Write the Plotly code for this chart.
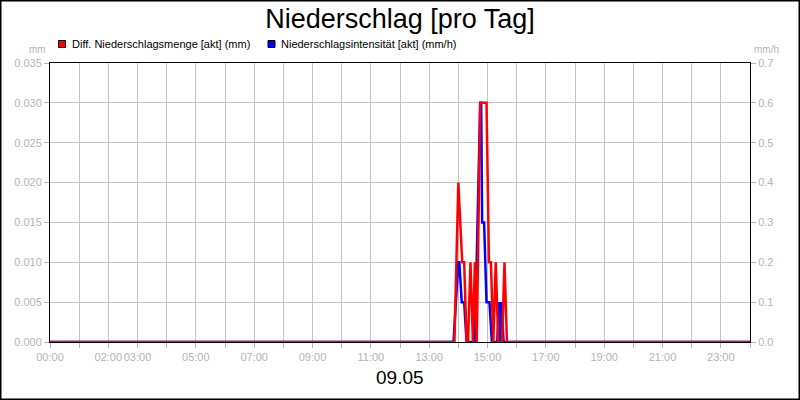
import plotly.graph_objects as go

# Diff. Niederschlagsmenge (mm), times
menge_zeit = ["00:00", "13:52", "14:00", "14:08", "14:12", "14:17", "14:20", "14:25",
              "14:30", "14:34", "14:38", "14:45", "14:58", "15:03", "15:07", "15:12",
              "15:17", "15:22", "15:30", "15:35", "15:40", "24:00"]
menge_mm = [0, 0, 0.02, 0.01, 0.01, 0, 0, 0.01,
            0, 0.01, 0, 0.03, 0.03, 0.01, 0.01, 0,
            0.01, 0, 0, 0.01, 0, 0]

# Niederschlagsintensitaet (mm/h)
int_zeit = ["00:00", "13:50", "14:00", "14:02", "14:07", "14:12", "14:17", "14:34",
            "14:45", "14:47", "14:49", "14:53", "14:58", "15:04", "15:09", "15:20",
            "15:24", "15:26", "15:29", "15:33", "24:00"]
int_mmh = [0, 0, 0.2, 0.2, 0.1, 0.1, 0, 0,
           0.6, 0.6, 0.3, 0.3, 0.1, 0.1, 0, 0,
           0.1, 0, 0.1, 0, 0]

x_labels = ["00:00", "02:00", "03:00", "05:00", "07:00", "09:00", "11:00",
            "13:00", "15:00", "17:00", "19:00", "21:00", "23:00"]

def to_hours(s):
    h, m = s.split(":")
    return int(h) + int(m) / 60

hours = list(range(0, 25))
ticktext = [f"{h:02d}:00" if f"{h:02d}:00" in x_labels else "" for h in hours]

GRAY = "#b4b4b4"
GRID = "#c4c4c4"
FONT = "Liberation Sans"

fig = go.Figure()
# blue on base axis, red on overlaying axis so red is drawn on top
fig.add_trace(go.Scatter(x=[to_hours(t) for t in int_zeit], y=int_mmh, mode="lines",
                         line=dict(color="#0000ff", width=2.5), yaxis="y",
                         name="Niederschlagsintensität [akt] (mm/h)", showlegend=False))
fig.add_trace(go.Scatter(x=[to_hours(t) for t in menge_zeit], y=menge_mm, mode="lines",
                         line=dict(color="#ff0000", width=2.5), yaxis="y2",
                         name="Diff. Niederschlagsmenge [akt] (mm)", showlegend=False))

axis_font = dict(family=FONT, size=11, color=GRAY)

fig.update_layout(
    width=800, height=400,
    margin=dict(l=50, r=50, t=63, b=58, autoexpand=False),
    paper_bgcolor="white", plot_bgcolor="white",
    font=dict(family=FONT, color="black"),
    title=dict(text="Niederschlag [pro Tag]", x=0.5, xanchor="center",
               y=1 - 19 / 400, yref="container", yanchor="middle",
               font=dict(family=FONT, size=27, color="black")),
    xaxis=dict(range=[0, 24], tickmode="array", tickvals=hours, ticktext=ticktext,
               tickangle=0, automargin=False,
               showgrid=True, gridcolor=GRID, gridwidth=1,
               ticks="outside", ticklen=5, tickcolor=GRAY, tickfont=axis_font,
               showline=True, linecolor="black", linewidth=1, mirror=True,
               zeroline=False),
    yaxis=dict(side="right", range=[0, 0.7], dtick=0.1, tickformat=".1f",
               automargin=False,
               showgrid=True, gridcolor=GRID, gridwidth=1,
               ticks="outside", ticklen=5, tickcolor=GRAY, tickfont=axis_font,
               showline=True, linecolor="black", linewidth=1, zeroline=False),
    yaxis2=dict(side="left", overlaying="y", range=[0, 0.035], dtick=0.005,
                tickformat=".3f", showgrid=False, automargin=False,
                ticks="outside", ticklen=5, tickcolor=GRAY, tickfont=axis_font,
                showline=True, linecolor="black", linewidth=1, zeroline=False),
    showlegend=False,
)

def px(x):
    return (x - 50) / 700

def py(y):
    return (342 - y) / 279

# outer frame
fig.add_shape(type="rect", xref="paper", yref="paper",
              x0=px(0.75), x1=px(799.25), y0=py(399.25), y1=py(0.75),
              line=dict(color="black", width=1.5), layer="above")

# legend swatches and texts
legend_items = [("#ff0000", 58.5, "Diff. Niederschlagsmenge [akt] (mm)"),
                ("#0000ff", 268, "Niederschlagsintensität [akt] (mm/h)")]
for color, x0, label in legend_items:
    fig.add_shape(type="rect", xref="paper", yref="paper",
                  x0=px(x0), x1=px(x0 + 7), y0=py(47.5), y1=py(40.5),
                  fillcolor=color, line=dict(color="black", width=1))
    fig.add_annotation(xref="paper", yref="paper", x=px(x0 + 11), y=py(44),
                       xanchor="left", yanchor="middle", showarrow=False,
                       text=label, font=dict(family=FONT, size=11, color="black"))

fig.add_annotation(xref="paper", yref="paper", x=px(48), y=py(50),
                   xanchor="right", yanchor="middle", showarrow=False,
                   text="mm", font=dict(family=FONT, size=10, color=GRAY))
fig.add_annotation(xref="paper", yref="paper", x=px(752), y=py(50),
                   xanchor="left", yanchor="middle", showarrow=False,
                   text="mm/h", font=dict(family=FONT, size=10, color=GRAY))
fig.add_annotation(xref="paper", yref="paper", x=px(400), y=py(377),
                   xanchor="center", yanchor="middle", showarrow=False,
                   text="09.05", font=dict(family=FONT, size=19, color="black"))

# page has a default 8px body margin; drop it so the figure sits at the corner
fig.write_html("out.html", config={"displayModeBar": False},
               post_script="document.body.style.margin='0px';")
